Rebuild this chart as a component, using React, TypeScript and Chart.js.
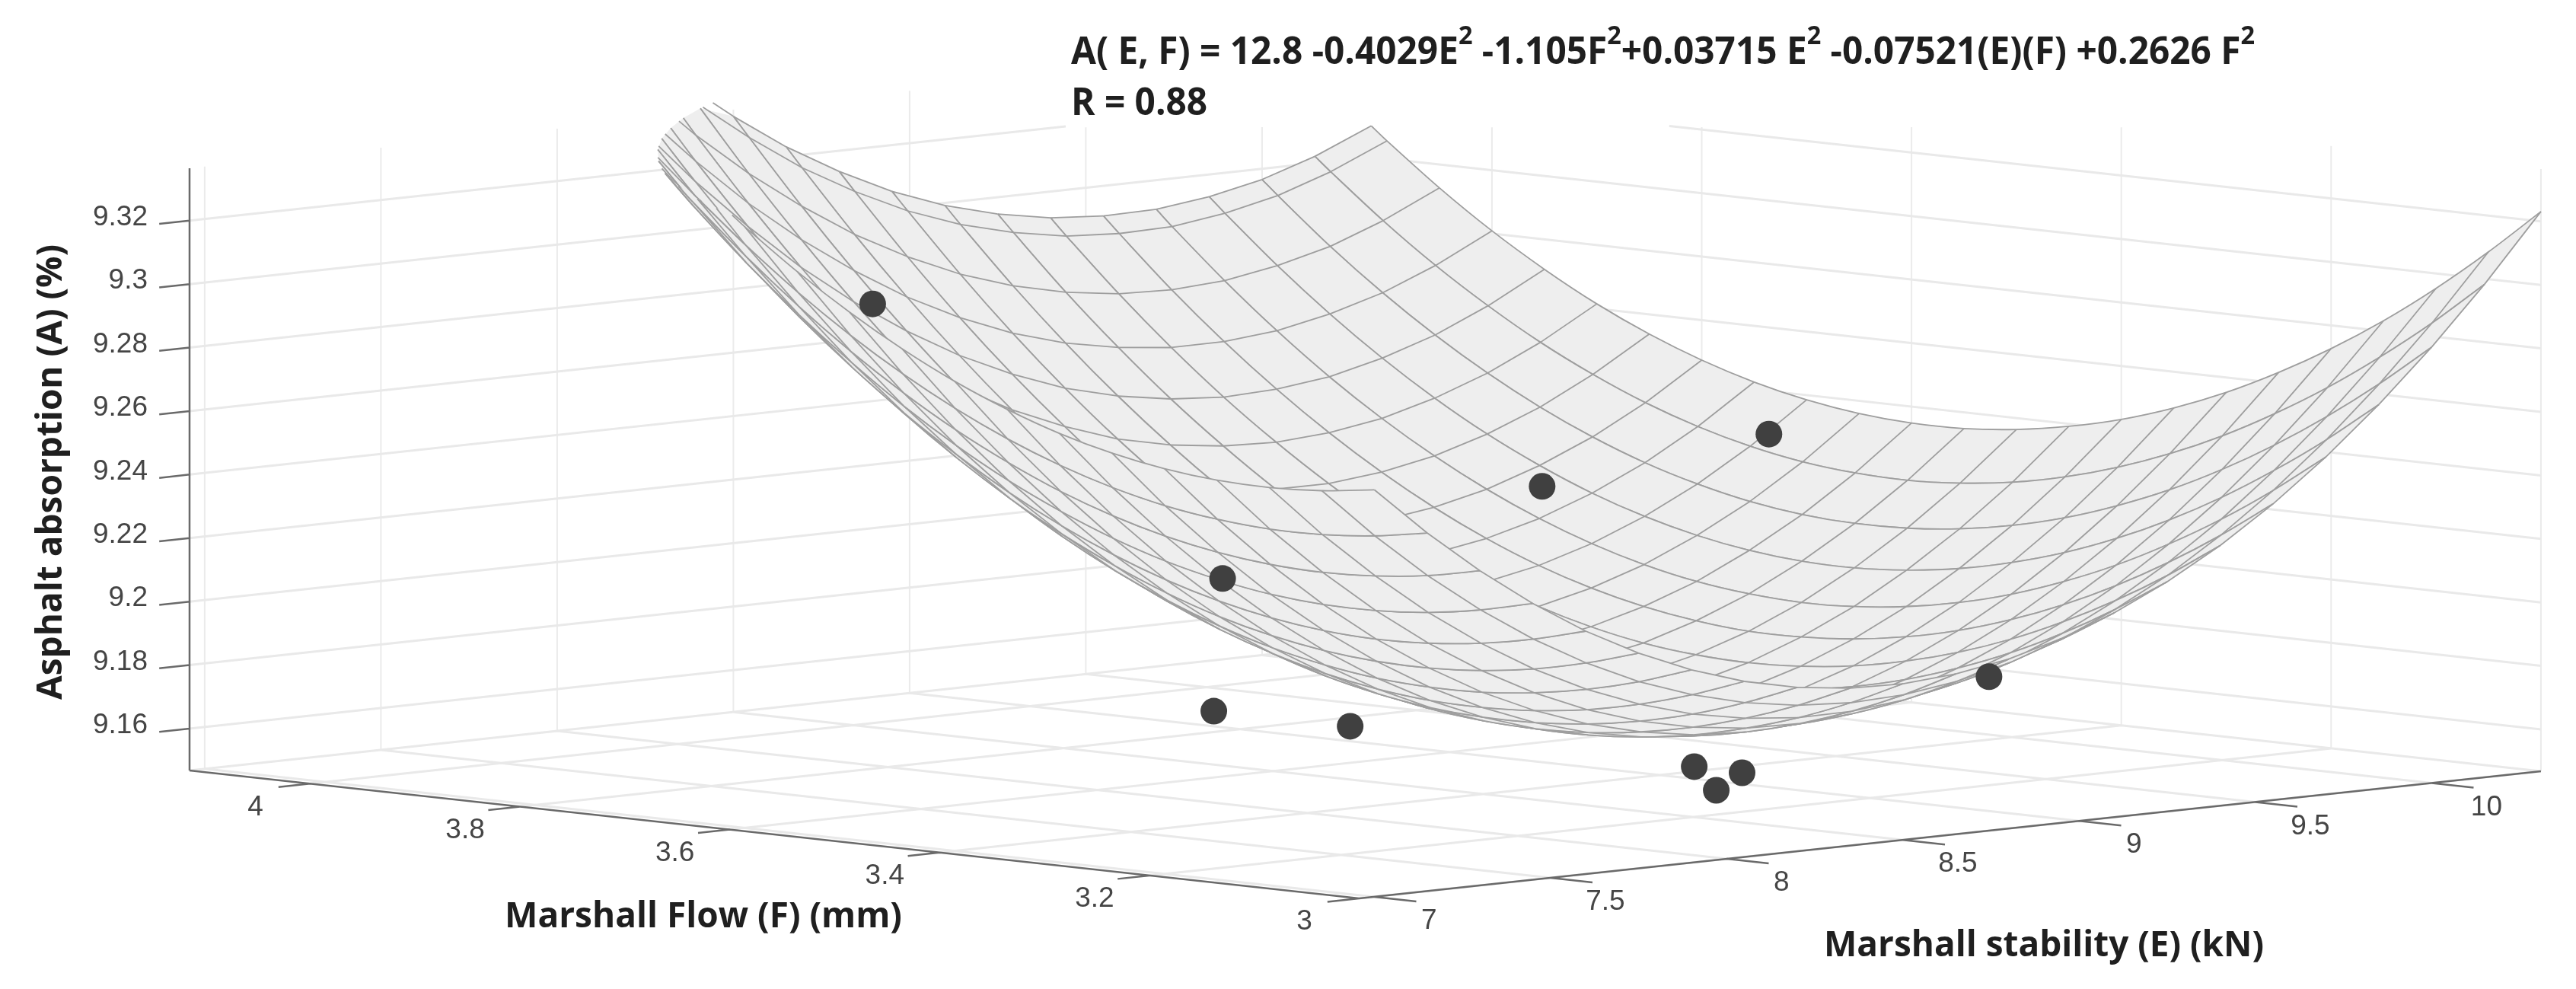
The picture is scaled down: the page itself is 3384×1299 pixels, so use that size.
import React, { useEffect, useRef } from "react";
import { Chart, registerables } from "chart.js";

Chart.register(...registerables);

// ---- Data ----
// Axis ticks
const E_TICKS = [7, 7.5, 8, 8.5, 9, 9.5, 10];
const F_TICKS = [3, 3.2, 3.4, 3.6, 3.8, 4];
const A_TICKS = [9.16, 9.18, 9.2, 9.22, 9.24, 9.26, 9.28, 9.3, 9.32];
const E_TICK_LABELS = ["7", "7.5", "8", "8.5", "9", "9.5", "10"];
const F_TICK_LABELS = ["3", "3.2", "3.4", "3.6", "3.8", "4"];
const A_TICK_LABELS = ["9.16", "9.18", "9.2", "9.22", "9.24", "9.26", "9.28", "9.3", "9.32"];

// Upper end of each wall gridline: the white equation box hides some of them in the reference.
const E_WALL_TOP = [9.3365, 9.3365, 9.3365, 9.3365, 9.3365, 9.319, 9.3131];
const F_WALL_TOP = [9.3365, 9.3365, 9.3352, 9.328, 9.3208, 9.3135];

// Scatter points: picture positions fix two of the three coordinates, so each E is an estimate.
const POINT_E = [8.8, 8.4, 9, 9.7, 7.5, 8, 8.5, 8.5, 8.6, 9.5];
const POINT_F = [4.083, 3.615, 3.512, 3.531, 3.321, 3.359, 3.199, 3.178, 3.187, 3.254];
const POINT_A = [9.2729, 9.2081, 9.2337, 9.2411, 9.1877, 9.1756, 9.1627, 9.156, 9.16, 9.1771];

// Surface mesh. Heights are hand-tabulated from the equation printed on the chart, with a +0.006
// offset calibrated to the picture; they are not individually read nodes. The mesh is coarser than
// the reference (about 50x50). A row stops one node after it passes the top of the box.
const SURFACE_E = [7, 7.15, 7.3, 7.45, 7.6, 7.75, 7.9, 8.05, 8.2, 8.35, 8.5, 8.65, 8.8, 8.95, 9.1, 9.25, 9.4, 9.55, 9.7, 9.85, 10, 10.15, 10.31];
const SURFACE_F = [3, 3.05, 3.1, 3.15, 3.2, 3.25, 3.3, 3.35, 3.4, 3.45, 3.5, 3.55, 3.6, 3.65, 3.7, 3.75, 3.8, 3.85, 3.9, 3.95, 4, 4.05, 4.1, 4.115];
const SURFACE_A: number[][] = [
  [9.275, 9.2729, 9.2721, 9.2726, 9.2744, 9.2775, 9.2819, 9.2877, 9.2947, 9.3031, 9.3128, 9.3238, 9.3361, 9.3497],
  [9.2596, 9.2569, 9.2555, 9.2554, 9.2567, 9.2592, 9.2631, 9.2683, 9.2748, 9.2826, 9.2917, 9.3021, 9.3138, 9.3269, 9.3412],
  [9.2459, 9.2426, 9.2407, 9.24, 9.2407, 9.2427, 9.246, 9.2506, 9.2565, 9.2638, 9.2723, 9.2822, 9.2934, 9.3059, 9.3197, 9.3348, 9.3512],
  [9.2338, 9.23, 9.2274, 9.2262, 9.2263, 9.2277, 9.2305, 9.2345, 9.2399, 9.2466, 9.2545, 9.2638, 9.2744, 9.2864, 9.2996, 9.3141, 9.33, 9.3472],
  [9.2233, 9.219, 9.2159, 9.2141, 9.2136, 9.2145, 9.2167, 9.2202, 9.225, 9.2311, 9.2385, 9.2472, 9.2573, 9.2686, 9.2813, 9.2953, 9.3106, 9.3272, 9.3452],
  [9.2146, 9.2097, 9.206, 9.2037, 9.2027, 9.203, 9.2046, 9.2075, 9.2117, 9.2173, 9.2242, 9.2323, 9.2418, 9.2526, 9.2647, 9.2782, 9.2929, 9.309, 9.3263, 9.345],
  [9.2075, 9.202, 9.1978, 9.1949, 9.1933, 9.1931, 9.1941, 9.1965, 9.2001, 9.2051, 9.2114, 9.219, 9.2279, 9.2382, 9.2497, 9.2626, 9.2767, 9.2922, 9.309, 9.3271, 9.3465],
  [9.2021, 9.1961, 9.1913, 9.1878, 9.1857, 9.1849, 9.1853, 9.1871, 9.1902, 9.1947, 9.2004, 9.2074, 9.2158, 9.2255, 9.2365, 9.2488, 9.2624, 9.2773, 9.2935, 9.3111, 9.3299, 9.3501],
  [9.1984, 9.1918, 9.1864, 9.1824, 9.1797, 9.1783, 9.1782, 9.1794, 9.182, 9.1858, 9.191, 9.1975, 9.2053, 9.2144, 9.2248, 9.2365, 9.2495, 9.2639, 9.2796, 9.2965, 9.3148, 9.3344, 9.3554],
  [9.1964, 9.1892, 9.1833, 9.1787, 9.1754, 9.1734, 9.1728, 9.1735, 9.1754, 9.1787, 9.1833, 9.1892, 9.1965, 9.205, 9.2149, 9.226, 9.2385, 9.2523, 9.2674, 9.2838, 9.3016, 9.3206, 9.341, 9.3473],
  [9.196, 9.1882, 9.1817, 9.1766, 9.1727, 9.1702, 9.169, 9.1691, 9.1706, 9.1733, 9.1773, 9.1827, 9.1893, 9.1973, 9.2066, 9.2172, 9.2292, 9.2424, 9.2569, 9.2728, 9.29, 9.3085, 9.3283, 9.3344],
  [9.1973, 9.1889, 9.1819, 9.1762, 9.1718, 9.1687, 9.1669, 9.1664, 9.1673, 9.1694, 9.1729, 9.1777, 9.1838, 9.1912, 9.1999, 9.21, 9.2213, 9.234, 9.248, 9.2633, 9.2799, 9.2978, 9.317, 9.323],
  [9.2002, 9.1913, 9.1837, 9.1775, 9.1725, 9.1688, 9.1665, 9.1655, 9.1658, 9.1674, 9.1703, 9.1745, 9.1801, 9.1869, 9.1951, 9.2047, 9.2153, 9.2274, 9.2409, 9.2556, 9.2716, 9.289, 9.3077, 9.3135],
  [9.2049, 9.1954, 9.1872, 9.1804, 9.1748, 9.1706, 9.1677, 9.1661, 9.1658, 9.1669, 9.1692, 9.1729, 9.1778, 9.1841, 9.1917, 9.2006, 9.2108, 9.2224, 9.2352, 9.2494, 9.2649, 9.2817, 9.2998, 9.3054],
  [9.2112, 9.2011, 9.1924, 9.185, 9.1789, 9.1741, 9.1707, 9.1685, 9.1677, 9.1681, 9.1699, 9.173, 9.1774, 9.1832, 9.1902, 9.1985, 9.2082, 9.2192, 9.2315, 9.2451, 9.26, 9.2762, 9.2937, 9.2992],
  [9.2192, 9.2086, 9.1993, 9.1913, 9.1847, 9.1793, 9.1753, 9.1726, 9.1712, 9.1711, 9.1723, 9.1748, 9.1787, 9.1839, 9.1903, 9.1981, 9.2072, 9.2176, 9.2294, 9.2424, 9.2568, 9.2724, 9.2894, 9.2947],
  [9.2288, 9.2176, 9.2078, 9.1993, 9.192, 9.1861, 9.1815, 9.1782, 9.1763, 9.1756, 9.1763, 9.1782, 9.1815, 9.1861, 9.192, 9.1992, 9.2077, 9.2176, 9.2288, 9.2412, 9.255, 9.2701, 9.2865, 9.2917],
  [9.2401, 9.2284, 9.218, 9.2089, 9.2011, 9.1946, 9.1894, 9.1856, 9.1831, 9.1819, 9.1819, 9.1834, 9.1861, 9.1901, 9.1954, 9.2021, 9.2101, 9.2194, 9.23, 9.2419, 9.2551, 9.2696, 9.2855, 9.2905],
  [9.2531, 9.2408, 9.2298, 9.2202, 9.2118, 9.2048, 9.199, 9.1946, 9.1915, 9.1897, 9.1892, 9.1901, 9.1922, 9.1957, 9.2005, 9.2066, 9.214, 9.2227, 9.2327, 9.244, 9.2567, 9.2707, 9.2859, 9.2908],
  [9.2678, 9.2549, 9.2434, 9.2331, 9.2242, 9.2166, 9.2103, 9.2054, 9.2017, 9.1994, 9.1983, 9.1986, 9.2002, 9.2031, 9.2073, 9.2128, 9.2197, 9.2278, 9.2373, 9.2481, 9.2602, 9.2736, 9.2883, 9.293],
  [9.2841, 9.2707, 9.2586, 9.2478, 9.2383, 9.2301, 9.2233, 9.2177, 9.2135, 9.2106, 9.209, 9.2087, 9.2097, 9.212, 9.2157, 9.2206, 9.2269, 9.2345, 9.2434, 9.2536, 9.2651, 9.2779, 9.2921, 9.2966],
  [9.3021, 9.2881, 9.2755, 9.2641, 9.2541, 9.2453, 9.2379, 9.2318, 9.227, 9.2235, 9.2214, 9.2205, 9.221, 9.2227, 9.2258, 9.2302, 9.2359, 9.243, 9.2513, 9.261, 9.2719, 9.2842, 9.2978, 9.3021],
  [9.3231, 9.3086, 9.2953, 9.2833, 9.2727, 9.2634, 9.2553, 9.2486, 9.2432, 9.2392, 9.2364, 9.2349, 9.2348, 9.236, 9.2385, 9.2423, 9.2474, 9.2538, 9.2615, 9.2706, 9.2809, 9.2926, 9.3056, 9.3098],
];

// Axis box limits
const E_MIN = 6.957;
const E_MAX = 10.31;
const F_MIN = 3;
const F_MAX = 4.115;
const A_MIN = 9.1468;
const A_MAX = 9.3365;
const SURFACE_TOP = 9.3394;

// ---- Orthographic view of the 3D box, onto the chart's two linear scales ----
type V3 = [number, number, number];
const project = ([E, F, A]: V3) => ({
  x: 249 + 1378 * (F_MAX - F) + 463 * (E - E_MIN),
  y: 1012 + 150.7 * (F_MAX - F) - 49.8 * (E - E_MIN) - 4170 * (A - A_MIN),
});
const GAP = { x: NaN, y: NaN };
const segments = (list: [V3, V3][]) =>
  list.flatMap(([a, b]) => [project(a), project(b), GAP]);

// Rows cut at the top of the box (where the plotted surface leaves the axes)
const crossing = (a: V3, b: V3): V3 => {
  const t = (SURFACE_TOP - a[2]) / (b[2] - a[2]);
  return [a[0] + (b[0] - a[0]) * t, a[1] + (b[1] - a[1]) * t, SURFACE_TOP];
};
const clippedRow = (i: number): V3[] => {
  const out: V3[] = [];
  const row = SURFACE_A[i];
  for (let j = 0; j < row.length; j++) {
    const p: V3 = [SURFACE_E[i], SURFACE_F[j], row[j]];
    if (row[j] <= SURFACE_TOP) out.push(p);
    else {
      out.push(crossing(out[out.length - 1], p));
      break;
    }
  }
  return out;
};
const crossLines = (i: number): [V3, V3][] => {
  const out: [V3, V3][] = [];
  SURFACE_F.forEach((F, j) => {
    const a = SURFACE_A[i][j];
    const b = SURFACE_A[i + 1][j];
    if (a === undefined || b === undefined) return;
    const pa: V3 = [SURFACE_E[i], F, a];
    const pb: V3 = [SURFACE_E[i + 1], F, b];
    if (a <= SURFACE_TOP && b <= SURFACE_TOP) out.push([pa, pb]);
    else if (a <= SURFACE_TOP) out.push([pa, crossing(pa, pb)]);
    else if (b <= SURFACE_TOP) out.push([crossing(pb, pa), pb]);
  });
  return out;
};

const MESH = "#9e9e9e";
const FACE = "#eeeeee";
const FONT_NUM = '"Liberation Sans"';
const FONT_TITLE = '"Open Sans"';

const lineSet = (data: any[], color: string, width: number, tension = 0) => ({
  data,
  showLine: true,
  pointRadius: 0,
  borderColor: color,
  borderWidth: width,
  tension,
  spanGaps: false,
});

const buildDatasets = () => {
  const sets: any[] = [];
  // Index 0 is painted last.
  sets.push({
    data: POINT_E.map((E, k) => project([E, POINT_F[k], POINT_A[k]])),
    showLine: false,
    pointRadius: 17.5,
    pointBorderWidth: 0,
    backgroundColor: "#404040",
  });
  // Near strips come first so they are painted over the far ones.
  for (let i = 0; i < SURFACE_E.length - 1; i++) {
    const near = clippedRow(i);
    const far = clippedRow(i + 1);
    sets.push(lineSet(near.map(project), MESH, 1.8, 0.3));
    sets.push(lineSet(far.map(project), MESH, 1.8, 0.3));
    sets.push(lineSet(segments(crossLines(i)), MESH, 1.8));
    sets.push({
      data: [...near, ...far.slice().reverse()].map(project),
      showLine: false,
      pointRadius: 0,
      surfaceFace: true,
    });
  }
  // Dark axes and ticks
  const axis: [V3, V3][] = [
    [[E_MIN, F_MAX, A_MIN], [E_MIN, F_MAX, A_MAX]],
    [[E_MIN, F_MAX, A_MIN], [E_MIN, F_MIN, A_MIN]],
    [[E_MIN, F_MIN, A_MIN], [E_MAX, F_MIN, A_MIN]],
    ...A_TICKS.map((A): [V3, V3] => [[E_MIN, F_MAX, A], [E_MIN - 0.086, F_MAX, A]]),
    ...F_TICKS.map((F): [V3, V3] => [[E_MIN, F, A_MIN], [E_MIN - 0.09, F, A_MIN]]),
    ...E_TICKS.map((E): [V3, V3] => [[E, F_MIN, A_MIN], [E, F_MIN - 0.04, A_MIN]]),
  ];
  sets.push(lineSet(segments(axis), "#6a6a6a", 2.5));
  // Light gridlines
  const levels: [V3, V3][] = [];
  A_TICKS.forEach((A) => {
    const top = A === 9.32;
    levels.push([[E_MIN, F_MAX, A], [top ? 9.443 : E_MAX, F_MAX, A]]);
    levels.push([[E_MAX, F_MIN, A], [E_MAX, top ? 3.831 : F_MAX, A]]);
  });
  E_TICKS.forEach((E) => levels.push([[E, F_MIN, A_MIN], [E, F_MAX, A_MIN]]));
  F_TICKS.forEach((F) => levels.push([[E_MIN, F, A_MIN], [E_MAX, F, A_MIN]]));
  levels.push([[E_MIN, F_MAX, A_MIN], [E_MAX, F_MAX, A_MIN]]);
  levels.push([[E_MAX, F_MIN, A_MIN], [E_MAX, F_MAX, A_MIN]]);
  sets.push(lineSet(segments(levels), "#e9e9e9", 3));
  const uprights: [V3, V3][] = [
    ...E_TICKS.map((E, k): [V3, V3] => [[E, F_MAX, A_MIN], [E, F_MAX, E_WALL_TOP[k]]]),
    ...F_TICKS.map((F, k): [V3, V3] => [[E_MAX, F, A_MIN], [E_MAX, F, F_WALL_TOP[k]]]),
  ];
  sets.push(lineSet(segments(uprights), "#ebebeb", 2));
  return sets;
};

const facePlugin = {
  id: "surfaceFace",
  beforeDatasetDraw(chart: any, args: any) {
    const ds = chart.data.datasets[args.index];
    if (!ds.surfaceFace) return;
    const pts = args.meta.data;
    if (!pts.length) return;
    const ctx = chart.ctx;
    ctx.save();
    ctx.beginPath();
    pts.forEach((p: any, k: number) => (k ? ctx.lineTo(p.x, p.y) : ctx.moveTo(p.x, p.y)));
    ctx.closePath();
    ctx.fillStyle = FACE;
    ctx.fill();
    ctx.restore();
  },
};

const EQUATION: [string, boolean][] = [
  ["A( E, F) = 12.8 -0.4029E", false],
  ["2", true],
  [" -1.105F", false],
  ["2", true],
  ["+0.03715 E", false],
  ["2", true],
  [" -0.07521(E)(F) +0.2626 F", false],
  ["2", true],
];

const textPlugin = {
  id: "chartText",
  afterDraw(chart: any) {
    const { ctx, scales } = chart;
    const px = (p: { x: number; y: number }) => ({
      x: scales.x.getPixelForValue(p.x),
      y: scales.y.getPixelForValue(p.y),
    });
    ctx.save();
    ctx.textBaseline = "middle";
    ctx.fillStyle = "#454545";
    ctx.font = `37px ${FONT_NUM}`;
    ctx.textAlign = "right";
    A_TICKS.forEach((A, k) => {
      const p = px(project([E_MIN, F_MAX, A]));
      ctx.fillText(A_TICK_LABELS[k], p.x - 55, p.y - 4);
    });
    ctx.textAlign = "center";
    F_TICKS.forEach((F, k) => {
      const p = px(project([E_MIN, F, A_MIN]));
      ctx.fillText(F_TICK_LABELS[k], p.x - 72, p.y + 31);
    });
    E_TICKS.forEach((E, k) => {
      const p = px(project([E, F_MIN, A_MIN]));
      ctx.fillText(E_TICK_LABELS[k], p.x + 72, p.y + 32);
    });

    ctx.fillStyle = "#1f1f1f";
    ctx.font = `bold 46px ${FONT_TITLE}`;
    ctx.textAlign = "center";
    ctx.fillText("Marshall Flow (F) (mm)", 924, 1205, 522);
    ctx.font = `bold 47px ${FONT_TITLE}`;
    ctx.fillText("Marshall stability (E) (kN)", 2685, 1243, 578);
    ctx.save();
    ctx.translate(68, 620);
    ctx.rotate(-Math.PI / 2);
    ctx.font = `bold 46px ${FONT_TITLE}`;
    ctx.fillText("Asphalt absorption (A) (%)", 0, 0, 606);
    ctx.restore();

    // Equation, with real superscripts, condensed to the reference width
    ctx.textAlign = "left";
    const mainFont = `bold 50px ${FONT_TITLE}`;
    const supFont = `bold 34px ${FONT_TITLE}`;
    const widths = EQUATION.map(([t, sup]) => {
      ctx.font = sup ? supFont : mainFont;
      return ctx.measureText(t).width;
    });
    const total = widths.reduce((a, b) => a + b, 0);
    ctx.save();
    ctx.translate(1407, 70);
    ctx.scale(1555 / total, 1);
    let cursor = 0;
    EQUATION.forEach(([t, sup], k) => {
      ctx.font = sup ? supFont : mainFont;
      ctx.fillText(t, cursor, sup ? -22 : 0);
      cursor += widths[k];
    });
    ctx.restore();
    ctx.save();
    ctx.translate(1407, 137);
    ctx.font = mainFont;
    ctx.scale(1555 / total, 1);
    ctx.fillText("R = 0.88", 0, 0);
    ctx.restore();
    ctx.restore();
  },
};

export default function App() {
  const ref = useRef<HTMLCanvasElement | null>(null);
  useEffect(() => {
    if (!ref.current) return;
    const chart = new Chart(ref.current, {
      type: "scatter",
      data: { datasets: buildDatasets() },
      options: {
        animation: false,
        responsive: false,
        devicePixelRatio: 1,
        events: [],
        layout: { padding: 0, autoPadding: false },
        plugins: { legend: { display: false }, tooltip: { enabled: false } },
        scales: {
          x: { type: "linear", min: 0, max: 3384, display: false },
          y: { type: "linear", min: 0, max: 1299, reverse: true, display: false },
        },
      },
      plugins: [facePlugin, textPlugin],
    } as any);
    return () => chart.destroy();
  }, []);
  return (
    <div style={{ position: "absolute", left: 0, top: 0, width: 3384, height: 1299, background: "#fff" }}>
      <canvas ref={ref} width={3384} height={1299} style={{ display: "block" }} />
    </div>
  );
}
